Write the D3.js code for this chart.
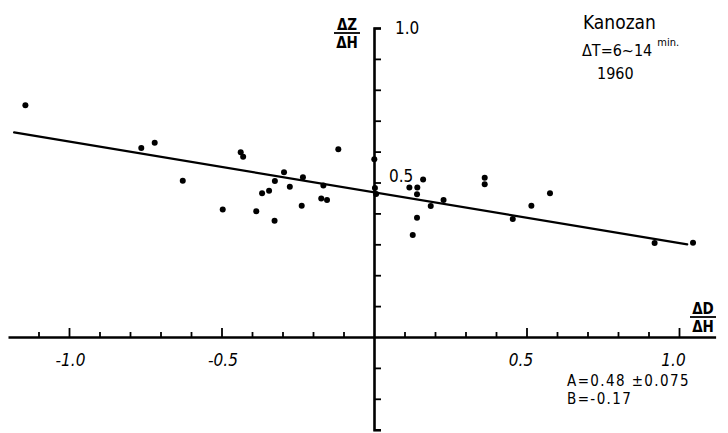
<!DOCTYPE html>
<html>
<head>
<meta charset="utf-8">
<script src="https://cdn.jsdelivr.net/npm/d3@7"></script>
<style>
  body { margin: 0; background: #fff; }
  svg { display: block; }
  .hand { font-family: "DejaVu Sans Condensed", "Liberation Sans Narrow", "DejaVu Sans", sans-serif; fill: #000; }
</style>
</head>
<body>
<svg id="chart"></svg>
<script>
// dZ/dH against dD/dH, Kanozan 1960, dT = 6~14 min
const pointX = [
  -1.143, -0.763, -0.719, -0.627, -0.496, -0.437, -0.429, -0.386, -0.367, -0.344,
  -0.325, -0.326, -0.295, -0.276, -0.237, -0.233, -0.173, -0.154, -0.166, -0.117,
  0.001, 0.003, 0.007, 0.116, 0.142, 0.161, 0.141, 0.186, 0.228, 0.141,
  0.127, 0.363, 0.363, 0.455, 0.516, 0.577, 0.920, 1.046
];
const pointY = [
  0.750, 0.612, 0.629, 0.506, 0.413, 0.598, 0.583, 0.407, 0.465, 0.473,
  0.505, 0.376, 0.533, 0.486, 0.425, 0.517, 0.448, 0.443, 0.490, 0.608,
  0.575, 0.482, 0.463, 0.484, 0.484, 0.510, 0.462, 0.424, 0.443, 0.386,
  0.330, 0.515, 0.494, 0.382, 0.425, 0.465, 0.304, 0.305
];
// fitted line as drawn, end points
const lineX = [-1.18, 1.027];
const lineY = [0.662, 0.300];

const xTicks = d3.range(-11, 11).map((d) => d / 10);
const xLabels = [-1.0, -0.5, 0.5, 1.0];
const yTicks = d3.range(-3, 10).map((d) => d / 10);
const yLabels = [0.5, 1.0];

const width = 728;
const height = 433;

const isIn = (list, d) => list.some((v) => Math.abs(v - d) < 1e-9);
const fmt = (d) => d3.format(".1f")(d).replace("−", "-");

const svg = d3.select("#chart").attr("width", width).attr("height", height);

const x = d3.scaleLinear().domain([-1.2, 1.12]).range([8, 715.6]);
const y = d3.scaleLinear().domain([-0.3, 1.0]).range([429.7, 28]);

// x axis, ticks pointing up
const xAxis = svg
  .append("g")
  .attr("transform", `translate(0,${y(0)})`)
  .call(
    d3
      .axisBottom(x)
      .tickValues(xTicks)
      .tickSizeInner(-5)
      .tickSizeOuter(0)
      .tickPadding(17)
      .tickFormat((d) => (isIn(xLabels, d) ? fmt(d) : ""))
  );
xAxis.select(".domain").attr("stroke-width", 2.4);
xAxis
  .selectAll(".tick line")
  .attr("stroke-width", 1.8)
  .attr("y2", (d) => (isIn(xLabels, d) ? -9 : -5));
xAxis
  .selectAll(".tick")
  .filter((d) => Math.abs(d) < 1e-9)
  .remove();
xAxis
  .selectAll(".tick text")
  .attr("class", "hand")
  .attr("font-size", 17)
  .attr("font-style", "italic")
  .attr("dx", (d) => (d < 0 ? 1 : -6))
  .attr("fill", "#000");

// y axis, ticks to the right
const yAxis = svg
  .append("g")
  .attr("transform", `translate(${x(0)},0)`)
  .call(
    d3
      .axisRight(y)
      .tickValues(yTicks.concat([1.0]))
      .tickSizeInner(7)
      .tickSizeOuter(7)
      .tickPadding(8)
      .tickFormat((d) => (isIn(yLabels, d) ? fmt(d) : ""))
  );
yAxis.select(".domain").attr("stroke-width", 2.6);
yAxis.selectAll(".tick line").attr("stroke-width", 1.8);
yAxis
  .selectAll(".tick")
  .filter((d) => Math.abs(d) < 1e-9)
  .remove();
yAxis
  .selectAll(".tick text")
  .attr("class", "hand")
  .attr("font-size", 17)
  .attr("fill", "#000")
  .attr("dx", (d) => (d > 0.9 ? 6 : 0))
  .attr("dy", (d) => (d > 0.9 ? "0.3em" : "-0.05em"));

// regression line
svg
  .append("line")
  .attr("x1", x(lineX[0]))
  .attr("y1", y(lineY[0]))
  .attr("x2", x(lineX[1]))
  .attr("y2", y(lineY[1]))
  .attr("stroke", "#000")
  .attr("stroke-width", 2.2)
  .attr("stroke-linecap", "round");

// points
svg
  .selectAll(".pt")
  .data(pointX.map((d, i) => ({ x: d, y: pointY[i] })))
  .join("circle")
  .attr("class", "pt")
  .attr("cx", (d) => x(d.x))
  .attr("cy", (d) => y(d.y))
  .attr("r", 3)
  .attr("fill", "#000");

// axis titles as fractions
const fraction = (cx, top, num, den) => {
  const g = svg.append("g").attr("class", "hand");
  g.append("text").attr("x", cx).attr("y", top + 12).attr("text-anchor", "middle")
    .attr("font-size", 15).attr("font-weight", "bold").text(num);
  g.append("line").attr("x1", cx - 13).attr("x2", cx + 13)
    .attr("y1", top + 15).attr("y2", top + 15).attr("stroke", "#000").attr("stroke-width", 1.8);
  g.append("text").attr("x", cx).attr("y", top + 30).attr("text-anchor", "middle")
    .attr("font-size", 15).attr("font-weight", "bold").text(den);
};
fraction(347, 18, "ΔZ", "ΔH");
fraction(703, 302, "ΔD", "ΔH");

// station notes
const notes = svg.append("g").attr("class", "hand");
notes.append("text").attr("x", 583).attr("y", 29).attr("font-size", 19).text("Kanozan");
const dt = notes.append("text").attr("x", 582).attr("y", 56).attr("font-size", 16);
dt.append("tspan").text("ΔT=6~14");
dt.append("tspan").attr("dx", 5).attr("dy", -10).attr("font-size", 11).text("min.");
notes.append("text").attr("x", 597).attr("y", 79).attr("font-size", 16).text("1960");

notes.append("text").attr("x", 567).attr("y", 386).attr("font-size", 15)
  .attr("letter-spacing", 1.4).text("A=0.48 ±0.075");
notes.append("text").attr("x", 567).attr("y", 404).attr("font-size", 15)
  .attr("letter-spacing", 1.4).text("B=-0.17");
</script>
</body>
</html>
